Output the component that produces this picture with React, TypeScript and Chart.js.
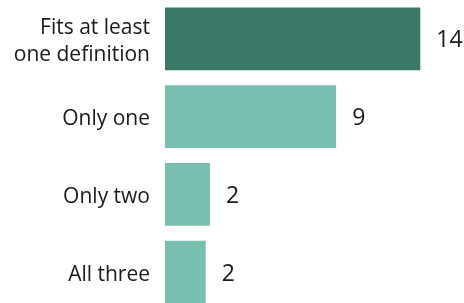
import React, { useEffect, useRef } from "react";
import { Chart, registerables } from "chart.js";

Chart.register(...registerables);

const categories: (string | string[])[] = [
  ["Fits at least", "one definition"],
  "Only one",
  "Only two",
  "All three",
];
const values = [13.8, 9.25, 2.43, 2.2];
const valueLabels = ["14", "9", "2", "2"];
const barColors = ["#3A7868", "#78BFB0", "#78BFB0", "#78BFB0"];

const FONT = "'Open Sans', Arial, sans-serif";

const labelPlugin = {
  id: "labels",
  afterDatasetsDraw(chart: any) {
    const ctx = chart.ctx;
    const meta = chart.getDatasetMeta(0);
    const left = chart.chartArea.left;
    ctx.save();
    ctx.fillStyle = "#1a1a1a";
    ctx.textBaseline = "alphabetic";
    // category labels
    ctx.font = `21px ${FONT}`;
    ctx.textAlign = "right";
    meta.data.forEach((bar: any, i: number) => {
      const lab = categories[i];
      const lines = Array.isArray(lab) ? lab : [lab];
      const lh = 27;
      const first = bar.y + 8.5 - ((lines.length - 1) * lh) / 2;
      lines.forEach((ln, j) => ctx.fillText(ln, left - 15, first + j * lh));
    });
    // value labels
    ctx.font = `23px ${FONT}`;
    ctx.textAlign = "left";
    meta.data.forEach((bar: any, i: number) => {
      ctx.fillText(valueLabels[i], bar.x + 16, bar.y + 8.5);
    });
    ctx.restore();
  },
};

export default function App() {
  const ref = useRef<HTMLCanvasElement | null>(null);
  useEffect(() => {
    document.body.style.margin = "0";
    if (!ref.current) return;
    const chart = new Chart(ref.current, {
      type: "bar",
      data: {
        labels: categories,
        datasets: [
          {
            data: values,
            backgroundColor: barColors,
            borderWidth: 0,
            barPercentage: 0.81,
            categoryPercentage: 1,
          },
        ],
      },
      options: {
        indexAxis: "y",
        responsive: false,
        animation: false,
        layout: { padding: { left: 0, right: 3, top: 0, bottom: 0 } },
        plugins: {
          legend: { display: false },
          tooltip: { enabled: false },
        },
        scales: {
          x: {
            display: false,
            min: 0,
            max: 16,
          },
          y: {
            grid: { display: false, drawTicks: false },
            border: { display: false },
            ticks: { display: false },
            afterFit(scale: any) {
              scale.width = 165;
              scale.paddingTop = 0;
              scale.paddingBottom = 0;
            },
          },
        },
      },
      plugins: [labelPlugin],
    });
    return () => chart.destroy();
  }, []);
  return (
    <div style={{ width: 464, height: 303, overflow: "hidden", position: "relative" }}>
      <canvas ref={ref} width={464} height={311} style={{ display: "block" }} />
    </div>
  );
}
